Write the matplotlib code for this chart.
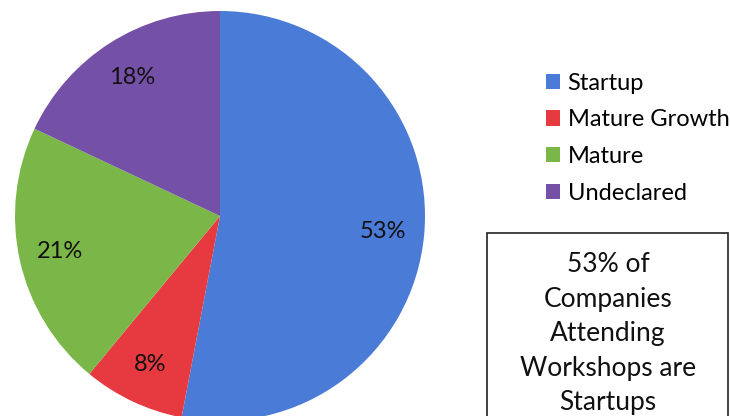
import matplotlib
matplotlib.use("Agg")
import matplotlib.pyplot as plt
from matplotlib.patches import Patch, Rectangle

categories = ["Startup", "Mature Growth", "Mature", "Undeclared"]
values = [53, 8, 21, 18]
colors = ["#4a7bd6", "#e63a40", "#7ab648", "#7450a6"]
note = "53% of\nCompanies\nAttending\nWorkshops are\nStartups"

plt.rcParams['font.family'] = ['Lato', 'DejaVu Sans']

W, H = 730, 416
fig = plt.figure(figsize=(W / 100, H / 100), dpi=100)
fig.patch.set_facecolor("white")

ax = fig.add_axes([15 / W, -5 / H, 410 / W, 410 / H])
wedges, texts, autotexts = ax.pie(
    values, colors=colors, startangle=90, counterclock=False,
    autopct=lambda p: f"{p:.0f}%", pctdistance=0.8, radius=1.0,
    textprops=dict(fontsize=17, color="#111111"))
ax.set_xlim(-1, 1)
ax.set_ylim(-1, 1)
ax.set_aspect("equal")
ax.axis("off")

handles = [Patch(facecolor=c, edgecolor="none") for c in colors]
fig.legend(handles, categories, loc="upper left",
           bbox_to_anchor=(534 / W, 1 - 61 / H), frameon=False,
           fontsize=17, handlelength=0.62, handleheight=0.62,
           handletextpad=0.3, labelspacing=0.66, borderpad=0)

box = Rectangle((487 / W, -0.05), 241 / W, (416 - 233) / H + 0.05,
                transform=fig.transFigure, facecolor="white",
                edgecolor="#222222", linewidth=1.2)
fig.patches.append(box)
fig.text(608 / W, 1 - 252 / H, note, ha="center", va="top",
         fontsize=19, linespacing=1.48, color="#111111")

fig.savefig("out.png", dpi=100)
